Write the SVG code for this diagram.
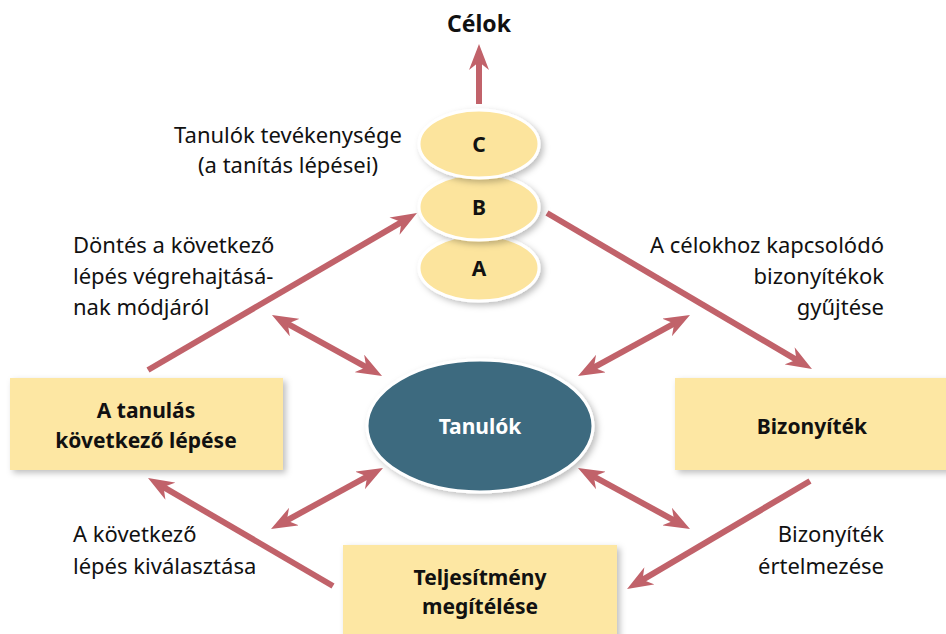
<svg xmlns="http://www.w3.org/2000/svg" width="946" height="634" viewBox="0 0 946 634">
<style>
.t{font-family:"Noto Sans","Open Sans","DejaVu Sans",sans-serif;font-size:22px;fill:#111}
.b{font-weight:bold;font-size:21px}
.m{text-anchor:middle}
.e{text-anchor:end}
.box{fill:#fde7a3;filter:url(#sh)}
.ov{fill:#fce49d;stroke:#fff;stroke-width:3;filter:url(#sh)}
.arr{stroke:#c1626a;stroke-width:6;fill:none;marker-end:url(#ah)}
.dbl{marker-start:url(#ah)}
</style>
<defs>
<filter id="sh" x="-20%" y="-20%" width="140%" height="150%">
<feDropShadow dx="3" dy="3" stdDeviation="3" flood-color="#000" flood-opacity="0.25"/>
</filter>
<marker id="ah" markerUnits="userSpaceOnUse" markerWidth="26" markerHeight="20" viewBox="0 -10 26 20" refX="12" refY="0" orient="auto-start-reverse">
<path d="M26,0 L0,-10 L8,0 L0,10 Z" fill="#c1626a"/>
</marker>
</defs>

<g id="connectors">
<line class="arr" x1="479" y1="104" x2="479" y2="58"/>
<line class="arr" x1="148" y1="370" x2="404.9" y2="220.1"/>
<line class="arr" x1="547" y1="213" x2="799.9" y2="361.9"/>
<line class="arr" x1="810" y1="481" x2="639.1" y2="581.9"/>
<line class="arr" x1="333" y1="586" x2="160.1" y2="485.1"/>
<line class="arr dbl" x1="284.2" y1="321.8" x2="369.8" y2="369.2"/>
<line class="arr dbl" x1="677.7" y1="321.7" x2="590.3" y2="369.3"/>
<line class="arr dbl" x1="370.7" y1="474.7" x2="283.3" y2="522.3"/>
<line class="arr dbl" x1="590.3" y1="474.7" x2="677.7" y2="522.3"/>
</g>

<g id="celok"><text class="t b m" x="479" y="32" style="font-size:23px">Célok</text></g>

<g id="stepA"><ellipse class="ov" cx="479" cy="268" rx="60" ry="33"/><text class="t b m" x="479" y="276">A</text></g>
<g id="stepB"><ellipse class="ov" cx="479" cy="207" rx="60" ry="33"/><text class="t b m" x="479" y="215">B</text></g>
<g id="stepC"><ellipse class="ov" cx="479" cy="144" rx="60" ry="34"/><text class="t b m" x="479" y="152">C</text></g>

<g id="tanulok">
<ellipse cx="480" cy="426" rx="113" ry="66" fill="#3e6a7f" stroke="#fff" stroke-width="3" filter="url(#sh)"/>
<text class="t b m" x="480" y="434" style="fill:#fff">Tanulók</text>
</g>

<g id="kovetkezo">
<rect class="box" x="10" y="378" width="273" height="92"/>
<text class="t b m" x="146" y="418">A tanulás</text>
<text class="t b m" x="146" y="448">következő lépése</text>
</g>

<g id="bizonyitek">
<rect class="box" x="675" y="378" width="290" height="92"/>
<text class="t b m" x="812" y="434">Bizonyíték</text>
</g>

<g id="teljesitmeny">
<rect class="box" x="343" y="545" width="274" height="100"/>
<text class="t b m" x="480" y="585">Teljesítmény</text>
<text class="t b m" x="480" y="614">megítélése</text>
</g>

<g id="labels">
<text class="t m" x="288" y="143">Tanulók tevékenysége</text>
<text class="t m" x="288" y="173">(a tanítás lépései)</text>
<text class="t" x="73" y="253">Döntés a következő</text>
<text class="t" x="73" y="284">lépés végrehajtásá-</text>
<text class="t" x="73" y="315">nak módjáról</text>
<text class="t e" x="884" y="253">A célokhoz kapcsolódó</text>
<text class="t e" x="884" y="284">bizonyítékok</text>
<text class="t e" x="884" y="315">gyűjtése</text>
<text class="t" x="73" y="542">A következő</text>
<text class="t" x="73" y="574">lépés kiválasztása</text>
<text class="t e" x="884" y="542">Bizonyíték</text>
<text class="t e" x="884" y="574">értelmezése</text>
</g>
</svg>
